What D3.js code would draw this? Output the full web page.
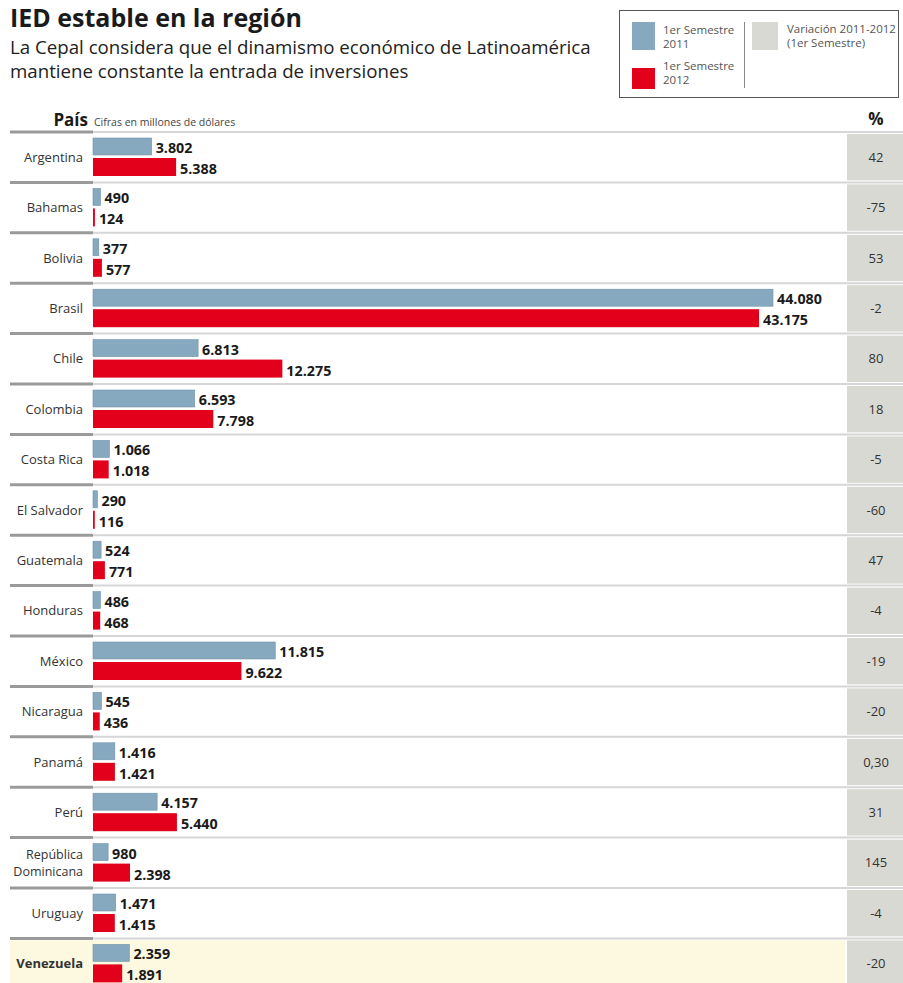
<!DOCTYPE html>
<html><head><meta charset="utf-8">
<script src="https://cdn.jsdelivr.net/npm/d3@7"></script>
<style>body{margin:0;background:#fff}svg{display:block}text{font-family:"Open Sans",sans-serif}</style>
</head><body>
<svg id="c" width="903" height="983"></svg>
<script>
const countries = ["Argentina","Bahamas","Bolivia","Brasil","Chile","Colombia","Costa Rica","El Salvador","Guatemala","Honduras","México","Nicaragua","Panamá","Perú","República Dominicana","Uruguay","Venezuela"];
const sem2011 = [3802,490,377,44080,6813,6593,1066,290,524,486,11815,545,1416,4157,980,1471,2359];
const sem2012 = [5388,124,577,43175,12275,7798,1018,116,771,468,9622,436,1421,5440,2398,1415,1891];
const variation = ["42","-75","53","-2","80","18","-5","-60","47","-4","-19","-20","0,30","31","145","-4","-20"];
const highlight = "Venezuela";

const svg = d3.select("#c");
const BLUE = "#86a9bf", RED = "#e2001a", GREY = "#d9d9d3";
const loc = d3.formatLocale({decimal:",",thousands:".",grouping:[3],currency:["$",""]});
const fmt = loc.format(",d");

// Title
svg.append("text").attr("x",10).attr("y",27).attr("font-size",25).attr("font-weight",700).attr("fill","#1a1a1a").text("IED estable en la región");
svg.append("text").attr("x",10).attr("y",54).attr("font-size",18.7).attr("fill","#222").text("La Cepal considera que el dinamismo económico de Latinoamérica");
svg.append("text").attr("x",10).attr("y",78).attr("font-size",18.7).attr("fill","#222").text("mantiene constante la entrada de inversiones");

// Legend
const lg = svg.append("g");
lg.append("rect").attr("x",619.5).attr("y",10.5).attr("width",279).attr("height",87).attr("fill","#fff").attr("stroke","#555");
lg.append("rect").attr("x",632).attr("y",22).attr("width",23).attr("height",28).attr("fill",BLUE);
lg.append("rect").attr("x",632).attr("y",68).attr("width",23).attr("height",21).attr("fill",RED);
lg.append("line").attr("x1",744.5).attr("x2",744.5).attr("y1",22).attr("y2",88).attr("stroke","#888");
lg.append("rect").attr("x",752).attr("y",22).attr("width",26).attr("height",28).attr("fill",GREY);
const lt = [["1er Semestre",663,34],["2011",663,48],["1er Semestre",663,70],["2012",663,84],["Variación 2011-2012",787,33],["(1er Semestre)",787,47]];
lg.selectAll("text.l").data(lt).join("text").attr("x",d=>d[1]).attr("y",d=>d[2]).attr("font-size",11.5).attr("fill","#555").text(d=>d[0]);

// Header
svg.append("text").attr("x",88).attr("y",126).attr("text-anchor","end").attr("font-size",17).attr("font-weight",700).attr("fill","#1a1a1a").text("País");
svg.append("text").attr("x",94).attr("y",126).attr("font-size",10.5).attr("fill","#444").text("Cifras en millones de dólares");
svg.append("text").attr("x",876).attr("y",125).attr("text-anchor","middle").attr("font-size",17).attr("font-weight",700).attr("fill","#1a1a1a").text("%");

const y = d3.scaleBand().domain(countries).range([132, 132 + countries.length*50.4]).padding(0);
const x = d3.scaleLinear().domain([0, d3.max(sem2011.concat(sem2012))]).range([93, 773]);

const rows = svg.append("g").selectAll("g").data(countries.map((c,i)=>({c,a:sem2011[i],b:sem2012[i],p:variation[i]}))).join("g")
  .attr("transform",d=>`translate(0,${y(d.c)})`);
const bh = y.bandwidth();

rows.filter(d=>d.c===highlight).append("rect").attr("x",10).attr("y",2).attr("width",835).attr("height",bh).attr("fill","#fdf9e1");
// separators
rows.append("line").attr("x1",93).attr("x2",903).attr("y1",0).attr("y2",0).attr("stroke","#d6d6d6").attr("stroke-width",2);
rows.append("line").attr("x1",10).attr("x2",93).attr("y1",0).attr("y2",0).attr("stroke","#9a9a9a").attr("stroke-width",3);
// pct box
rows.append("rect").attr("x",847).attr("y",2).attr("width",56).attr("height",bh-4).attr("fill",GREY);
rows.append("text").attr("x",876).attr("y",bh/2).attr("dy","0.35em").attr("text-anchor","middle").attr("font-size",13).attr("fill","#333").text(d=>d.p);
// bars
rows.append("rect").attr("x",x(0)).attr("y",6).attr("width",d=>x(d.a)-x(0)).attr("height",17).attr("fill",BLUE).attr("stroke","#6f93aa").attr("stroke-width",0.6);
rows.append("rect").attr("x",x(0)).attr("y",26).attr("width",d=>x(d.b)-x(0)).attr("height",18).attr("fill",RED);
rows.append("text").attr("x",d=>x(d.a)+4).attr("y",21).attr("font-size",14.3).attr("font-weight",700).attr("fill","#1a1a1a").text(d=>fmt(d.a));
rows.append("text").attr("x",d=>x(d.b)+4).attr("y",42).attr("font-size",14.3).attr("font-weight",700).attr("fill","#1a1a1a").text(d=>fmt(d.b));
// country labels
rows.each(function(d){
  const g = d3.select(this);
  const parts = d.c==="República Dominicana" ? ["República","Dominicana"] : [d.c];
  const t = g.append("text").attr("text-anchor","end").attr("font-size", parts.length>1?12.5:13).attr("fill","#333")
    .attr("font-weight", d.c===highlight?700:400);
  parts.forEach((p,i)=>{
    t.append("tspan").attr("x",83).attr("y", bh/2 + (i-(parts.length-1)/2)*17).attr("dy","0.35em").text(p);
  });
});
</script>
</body></html>
